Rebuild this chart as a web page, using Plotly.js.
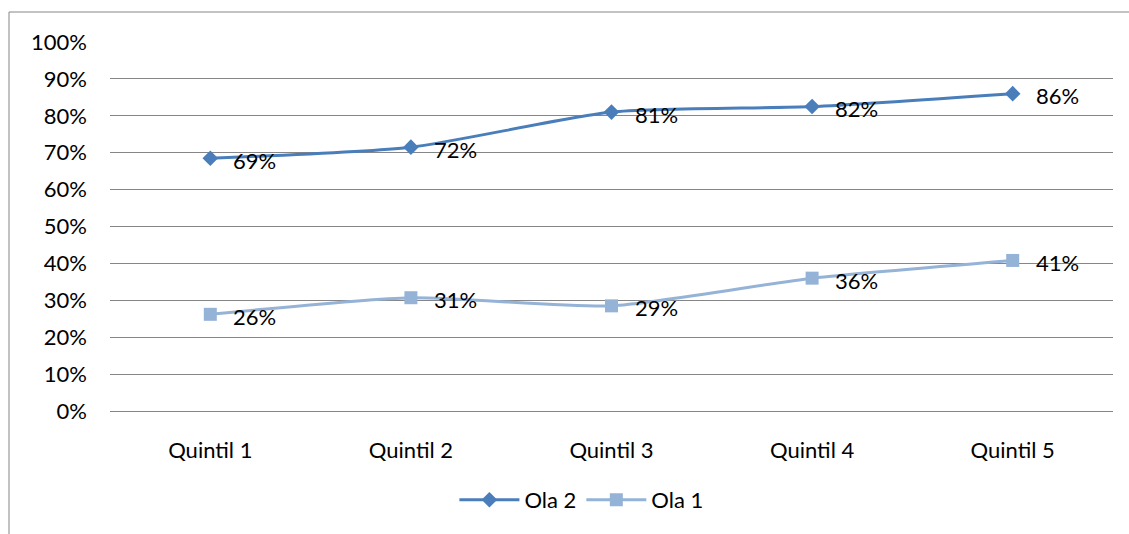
<!DOCTYPE html>
<html>
<head>
<meta charset="utf-8">
<script src="https://cdn.plot.ly/plotly-3.0.1.min.js"></script>
<style>
html,body{margin:0;padding:0;background:#fff;}
#chart{width:1129px;height:534px;}
</style>
</head>
<body>
<div id="chart"></div>
<script>
var categories = ["Quintil 1", "Quintil 2", "Quintil 3", "Quintil 4", "Quintil 5"];
var ola2 = [0.685, 0.715, 0.81, 0.825, 0.86];
var ola2Labels = ["69%", "72%", "81%", "82%", "86%"];
var ola1 = [0.262, 0.307, 0.285, 0.36, 0.408];
var ola1Labels = ["26%", "31%", "29%", "36%", "41%"];
var yTicks = [0, 0.1, 0.2, 0.3, 0.4, 0.5, 0.6, 0.7, 0.8, 0.9, 1.0];
var yTickLabels = ["0%", "10%", "20%", "30%", "40%", "50%", "60%", "70%", "80%", "90%", "100%"];

var fontFam = "Lato, 'Open Sans', sans-serif";
var fs = 22;

var traces = [
  {
    x: categories, y: ola2, name: "Ola 2", type: "scatter", mode: "lines+markers",
    line: {color: "#4a7ebb", width: 3, shape: "spline", smoothing: 0.6},
    marker: {symbol: "diamond", size: 12, color: "#4a7ebb"},
    hoverinfo: "skip", cliponaxis: false
  },
  {
    x: categories, y: ola1, name: "Ola 1", type: "scatter", mode: "lines+markers",
    line: {color: "#95b3d7", width: 3, shape: "spline", smoothing: 0.6},
    marker: {symbol: "square", size: 13, color: "#95b3d7"},
    hoverinfo: "skip", cliponaxis: false
  }
];

var annotations = [];
function addLabels(ys, labels) {
  for (var i = 0; i < categories.length; i++) {
    annotations.push({
      x: categories[i], y: ys[i], xref: "x", yref: "y",
      text: labels[i], showarrow: false,
      xanchor: "left", yanchor: "middle", xshift: 21, yshift: -2,
      font: {family: fontFam, size: fs, color: "#000"}
    });
  }
}
addLabels(ola2, ola2Labels);
addLabels(ola1, ola1Labels);

var layout = {
  width: 1129, height: 534,
  margin: {l: 110, r: 16, t: 42, b: 123},
  paper_bgcolor: "#fff", plot_bgcolor: "#fff",
  font: {family: fontFam, size: fs, color: "#000"},
  showlegend: true,
  legend: {orientation: "h", x: 0.47, xanchor: "center", y: -0.184, yanchor: "top",
           itemwidth: 60, font: {family: fontFam, size: fs, color: "#000"}},
  xaxis: {
    type: "category", range: [-0.5, 4.5], showgrid: false, zeroline: false,
    showline: true, linecolor: "#868686", linewidth: 1,
    ticks: "", ticklabelstandoff: 20,
    tickfont: {family: fontFam, size: fs, color: "#000"},
    fixedrange: true
  },
  yaxis: {
    range: [0, 1.0], tickvals: yTicks, ticktext: yTickLabels,
    showgrid: true, gridcolor: "#868686", gridwidth: 1,
    zeroline: false, showline: false, ticks: "", ticklabelstandoff: 22,
    tickfont: {family: fontFam, size: fs, color: "#000"},
    fixedrange: true
  },
  annotations: annotations,
  shapes: [
    {type: "rect", xref: "paper", yref: "paper",
     x0: -101/1003, x1: 1.05, y0: -0.4, y1: 399/369,
     line: {color: "#868686", width: 1}, fillcolor: "rgba(0,0,0,0)", layer: "below"}
  ]
};

Plotly.newPlot("chart", traces, layout, {displayModeBar: false, staticPlot: true});
</script>
</body>
</html>
